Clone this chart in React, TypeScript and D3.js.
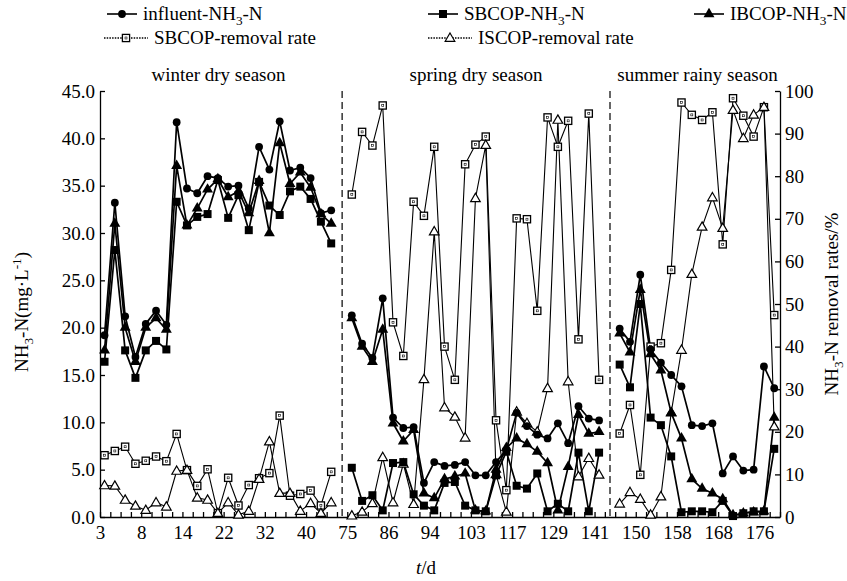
import React, { useEffect, useRef } from 'react'
import * as d3 from 'd3'

// x tick labels (day), one every 4 categories
const dayLabels = ['3', '8', '14', '22', '32', '40', '75', '86', '94', '103', '117', '129', '141', '150', '158', '168', '176']
const seasonNames = ['winter dry season', 'spring dry season', 'summer rainy season']

// null = gap between seasons (dashed separator)
const influent = [
  19.2, 33.2, 21.2, 16.9, 20.4, 21.8, 20.3, 41.7, 34.7, 34.2, 36.0, 35.8, 34.9, 35.0, 32.6, 39.1, 36.7, 41.8, 36.6, 36.9, 35.8, 32.1, 32.4,
  null,
  21.3, 18.3, 16.8, 23.1, 10.5, 9.4, 9.5, 3.6, 5.8, 5.4, 5.5, 5.8, 4.4, 4.4, 5.8, 7.1, 11.0, 9.6, 8.7, 8.3, 9.9, 7.8, 11.7, 10.4, 10.2,
  null,
  19.9, 18.5, 25.6, 17.7, 16.3, 15.0, 13.8, 9.7, 9.6, 9.9, 4.6, 6.4, 4.9, 5.0, 15.9, 13.6
]
const sbcopNH3 = [
  16.4, 28.2, 17.6, 14.7, 17.6, 18.6, 17.7, 33.3, 30.8, 31.7, 32.0, 35.6, 31.6, 34.0, 30.3, 35.4, 32.9, 31.9, 34.4, 34.9, 33.6, 31.2, 28.9,
  null,
  5.2, 1.7, 2.3, 0.7, 5.7, 5.8, 2.4, 1.2, 0.7, 3.6, 3.7, 1.2, 0.7, 0.6, 4.4, 6.9, 3.3, 3.0, 4.6, 0.6, 1.4, 0.6, 6.8, 0.6, 6.8,
  null,
  16.1, 13.7, 22.5, 10.5, 9.7, 6.4, 0.5, 0.6, 0.6, 0.5, 1.7, 0.1, 0.4, 0.6, 0.6, 7.2
]
const ibcopNH3 = [
  17.6, 31.0, 20.0, 16.4, 20.0, 21.0, 19.8, 37.1, 30.8, 32.6, 34.6, 35.7, 33.8, 34.4, 32.1, 35.5, 30.0, 39.5, 35.2, 36.4, 34.8, 32.0, 31.0,
  null,
  21.0, 18.0, 16.4, 19.8, 9.9, 8.0, 9.2, 2.5, 2.0, 4.0, 4.3, 4.6, 0.7, 0.6, 5.0, 7.3, 8.3, 7.7, 6.9, 5.7, 0.7, 5.3, 10.8, 8.8, 9.0,
  null,
  19.4, 17.4, 24.0, 17.2, 15.5, 11.0, 8.3, 4.0, 3.0, 2.5, 1.9, 0.2, 0.4, 0.5, 0.6, 10.5
]
const sbcopRemoval = [
  14.5, 15.5, 16.5, 12.5, 13.2, 14.2, 13.1, 19.5, 11.0, 7.3, 11.2, 0.9, 9.2, 2.7, 7.5, 9.1, 10.3, 23.8, 5.0, 5.4, 6.2, 2.7, 10.6,
  null,
  75.7, 90.4, 87.2, 96.6, 45.7, 37.8, 74.0, 70.7, 86.9, 40.0, 32.2, 82.8, 87.4, 89.3, 22.7, 6.3, 70.1, 69.9, 48.4, 93.8, 86.9, 93.0, 41.7, 94.7, 32.2,
  null,
  19.6, 26.3, 9.9, 40.0, 40.8, 58.0, 97.3, 94.4, 93.2, 95.0, 64.0, 98.3, 94.2, 89.3, 96.2, 47.4
]
const iscopRemoval = [
  7.4, 7.3, 4.0, 2.6, 1.6, 3.4, 2.4, 10.8, 11.0, 4.5, 4.0, 0.9, 3.4, 0.5, 1.4, 8.9, 17.7, 5.6, 5.6, 1.4, 3.2, 0.9, 3.4,
  null,
  0.3, 1.2, 3.2, 14.0, 3.4, 12.5, 3.0, 32.3, 67.0, 25.7, 23.5, 18.6, 74.8, 87.3, 10.0, 1.2, 24.7, 22.0, 20.0, 30.2, 93.2, 31.8, 9.5, 13.8, 9.9,
  null,
  3.1, 5.8, 4.2, 0.5, 4.8, 24.5, 39.2, 57.0, 68.1, 75.0, 67.8, 95.5, 88.9, 94.4, 96.2, 21.2
]

const FONT = "'Liberation Serif', 'Times New Roman', serif"

function App() {
  const ref = useRef(null)
  useEffect(() => {
    drawChart(ref.current)
  }, [])
  return (
    <svg ref={ref} width={847} height={581} style={{ position: 'absolute', left: 0, top: 0, background: '#fff' }} />
  )
}

function marker(g, kind, cx, cy) {
  if (kind === 'circle') {
    g.append('circle').attr('cx', cx).attr('cy', cy).attr('r', 3.9).attr('fill', '#000')
  } else if (kind === 'square') {
    g.append('rect').attr('x', cx - 4).attr('y', cy - 4).attr('width', 8).attr('height', 8).attr('fill', '#000')
  } else if (kind === 'triangle') {
    g.append('path').attr('transform', `translate(${cx},${cy})`)
      .attr('d', d3.symbol(d3.symbolTriangle, 52)()).attr('fill', '#000')
  } else if (kind === 'openSquare') {
    g.append('rect').attr('x', cx - 3.6).attr('y', cy - 3.6).attr('width', 7.2).attr('height', 7.2)
      .attr('fill', '#fff').attr('stroke', '#000').attr('stroke-width', 1.3)
    g.append('rect').attr('x', cx - 1).attr('y', cy - 1).attr('width', 2).attr('height', 2)
      .attr('fill', 'none').attr('stroke', '#000').attr('stroke-width', 0.6)
  } else {
    g.append('path').attr('transform', `translate(${cx},${cy + 0.5})`)
      .attr('d', d3.symbol(d3.symbolTriangle, 40)()).attr('fill', '#fff').attr('stroke', '#000').attr('stroke-width', 1.2)
  }
}

// text with a subscript / superscript part
function richText(sel, parts, size) {
  parts.forEach(([t, kind]) => {
    const sp = sel.append('tspan').text(t)
    if (kind === 'sub') sp.attr('dy', size * 0.28).attr('font-size', size * 0.7)
    if (kind === 'sup') sp.attr('dy', -size * 0.38).attr('font-size', size * 0.7)
    if (kind === 'back-sub') sp.attr('dy', -size * 0.28)
    if (kind === 'back-sup') sp.attr('dy', size * 0.38)
  })
}

function drawChart(el) {
  const left = 100, right = 780, top = 91, bottom = 517
  const n = influent.length
  const svg = d3.select(el)
  svg.selectAll('*').remove()

  const x = d3.scaleBand().domain(d3.range(n)).range([left, right])
  const xl = d3.scaleLinear().domain([0, n]).range([left, right])
  const px = i => x(i) + x.bandwidth() * 0.44
  const yL = d3.scaleLinear().domain([0, 45]).range([bottom, top])
  const yR = d3.scaleLinear().domain([0, 100]).range([bottom, top])

  // season separators at the empty categories
  influent.forEach((v, i) => {
    if (v === null) {
      svg.append('line').attr('x1', x(i) + x.bandwidth() / 2).attr('x2', x(i) + x.bandwidth() / 2)
        .attr('y1', top).attr('y2', bottom).attr('stroke', '#000').attr('stroke-width', 1.2)
        .attr('stroke-dasharray', '7,4')
    }
  })

  // axes
  const axL = svg.append('g').attr('transform', `translate(${left},0)`)
    .call(d3.axisLeft(yL).tickValues(d3.range(0, 46, 5)).tickSizeInner(-5).tickSizeOuter(0)
      .tickPadding(5).tickFormat(d3.format('.1f')))
  const axR = svg.append('g').attr('transform', `translate(${right},0)`)
    .call(d3.axisRight(yR).tickValues(d3.range(0, 101, 10)).tickSizeInner(-5).tickSizeOuter(0)
      .tickPadding(5).tickFormat(d3.format('d')))
  const axB = svg.append('g').attr('transform', `translate(0,${bottom})`)
    .call(d3.axisBottom(xl).tickValues(d3.range(0, n + 1)).tickSizeInner(-5).tickSizeOuter(0)
      .tickPadding(9).tickFormat(k => (k % 4 === 0 && k / 4 < dayLabels.length ? dayLabels[k / 4] : '')))
  ;[axL, axR, axB].forEach(a => {
    a.selectAll('text').attr('font-family', FONT).attr('font-size', 19).attr('fill', '#000')
    a.selectAll('path,line').attr('stroke', '#000').attr('stroke-width', 1.3)
  })

  // series
  const series = [
    { values: sbcopRemoval, y: yR, kind: 'openSquare', w: 1.1 },
    { values: iscopRemoval, y: yR, kind: 'openTriangle', w: 1.1 },
    { values: influent, y: yL, kind: 'circle', w: 1.7 },
    { values: sbcopNH3, y: yL, kind: 'square', w: 1.7 },
    { values: ibcopNH3, y: yL, kind: 'triangle', w: 1.7 },
  ]
  series.forEach(s => {
    const line = d3.line().defined(d => d !== null).x((d, i) => px(i)).y(d => s.y(d))
    svg.append('path').datum(s.values).attr('d', line).attr('fill', 'none')
      .attr('stroke', '#000').attr('stroke-width', s.w).attr('stroke-linejoin', 'round')
  })
  series.forEach(s => {
    const g = svg.append('g')
    s.values.forEach((v, i) => { if (v !== null) marker(g, s.kind, px(i), s.y(v)) })
  })

  // season titles, centred over each run of categories
  let start = 0, si = 0
  for (let i = 0; i <= n; i++) {
    if (i === n || influent[i] === null) {
      const cx = (x(start) + x(i - 1) + x.bandwidth()) / 2
      svg.append('text').attr('x', cx).attr('y', 81).attr('text-anchor', 'middle')
        .attr('font-family', FONT).attr('font-size', 19).text(seasonNames[si++])
      start = i + 1
    }
  }

  // legend
  const LF = 19
  const legend = [
    { kind: 'circle', x: 107, y: 14, label: [['influent-NH', ''], ['3', 'sub'], ['-N', 'back-sub']] },
    { kind: 'square', x: 428, y: 14, label: [['SBCOP-NH', ''], ['3', 'sub'], ['-N', 'back-sub']] },
    { kind: 'triangle', x: 694, y: 14, label: [['IBCOP-NH', ''], ['3', 'sub'], ['-N', 'back-sub']] },
    { kind: 'openSquare', x: 104, y: 38, label: [['SBCOP-removal rate', '']] },
    { kind: 'openTriangle', x: 428, y: 38, label: [['ISCOP-removal rate', '']] },
  ]
  legend.forEach(l => {
    const open = l.kind.startsWith('open')
    const len = open ? 44 : 30
    const g = svg.append('g')
    g.append('line').attr('x1', l.x).attr('x2', l.x + len).attr('y1', l.y).attr('y2', l.y)
      .attr('stroke', '#000').attr('stroke-width', open ? 1.3 : 1.6)
      .attr('stroke-dasharray', open ? '1.5,1.2' : null)
    marker(g, l.kind, l.x + len / 2, l.y)
    const t = svg.append('text').attr('x', l.x + len + 6).attr('y', l.y + 6)
      .attr('font-family', FONT).attr('font-size', LF)
    richText(t, l.label, LF)
  })

  // axis titles
  const tl = svg.append('text').attr('transform', `translate(28,${(top + bottom) / 2 + 8}) rotate(-90)`)
    .attr('text-anchor', 'middle').attr('font-family', FONT).attr('font-size', 19)
  richText(tl, [['NH', ''], ['3', 'sub'], ['-N(mg·L', 'back-sub'], ['-1', 'sup'], [')', 'back-sup']], 19)

  const tr = svg.append('text').attr('transform', `translate(838,${(top + bottom) / 2}) rotate(-90)`)
    .attr('text-anchor', 'middle').attr('font-family', FONT).attr('font-size', 19)
  richText(tr, [['NH', ''], ['3', 'sub'], ['-N removal rates/%', 'back-sub']], 19)

  const tx = svg.append('text').attr('x', (left + right) / 2 - 14).attr('y', 574)
    .attr('text-anchor', 'middle').attr('font-family', FONT).attr('font-size', 19)
  tx.append('tspan').attr('font-style', 'italic').text('t')
  tx.append('tspan').text('/d')
}

export default App
